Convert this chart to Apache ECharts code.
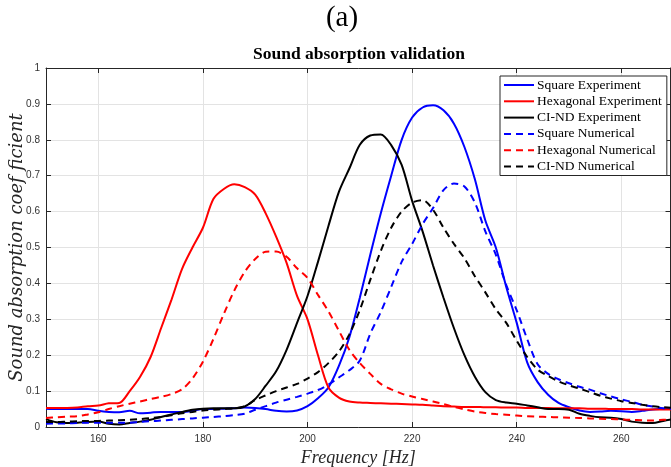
<!DOCTYPE html>
<html><head><meta charset="utf-8">
<script src="https://cdn.jsdelivr.net/npm/echarts@6/dist/echarts.min.js"></script>
<style>html,body{margin:0;padding:0;background:#fff}#c{width:671px;height:467px}</style>
</head><body><div id="c"></div>
<script>
const freq = [150,152,154,156,158,160,162,164,166,168,170,172,174,176,178,180,182,184,186,188,190,
  192,194,196,198,200,202,204,206,208,210,212,214,216,218,220,222,224,226,228,230,
  232,234,236,238,240,242,244,246,248,250,252,254,256,258,260,262,264,266,268,270];

const squareExp = [0.051,0.050,0.050,0.050,0.050,0.045,0.042,0.041,0.045,0.038,0.040,
  0.042,0.042,0.042,0.045,0.050,0.050,0.051,0.052,0.054,0.053,
  0.050,0.045,0.043,0.046,0.058,0.080,0.110,0.170,0.250,0.360,
  0.480,0.595,0.700,0.800,0.862,0.890,0.896,0.882,0.845,0.780,
  0.690,0.575,0.500,0.390,0.290,0.180,0.125,0.090,0.067,0.055,
  0.046,0.042,0.043,0.045,0.044,0.042,0.045,0.049,0.051,0.053];

const hexExp = [0.053,0.053,0.053,0.054,0.058,0.060,0.066,0.067,0.100,0.140,0.195,
  0.275,0.355,0.440,0.500,0.555,0.635,0.663,0.676,0.668,0.647,
  0.595,0.530,0.457,0.365,0.300,0.200,0.110,0.082,0.071,0.068,
  0.067,0.066,0.065,0.064,0.063,0.062,0.060,0.058,0.057,0.056,
  0.056,0.055,0.055,0.054,0.054,0.053,0.053,0.053,0.052,0.052,
  0.052,0.051,0.051,0.050,0.050,0.050,0.049,0.049,0.049,0.049];

const cindExp = [0.022,0.013,0.011,0.012,0.014,0.015,0.009,0.007,0.011,0.015,0.020,
  0.028,0.035,0.042,0.048,0.051,0.052,0.052,0.052,0.057,0.078,
  0.115,0.155,0.215,0.290,0.365,0.460,0.560,0.655,0.720,0.786,
  0.812,0.815,0.785,0.730,0.630,0.545,0.450,0.360,0.275,0.200,
  0.140,0.097,0.075,0.068,0.065,0.060,0.055,0.050,0.050,0.048,
  0.037,0.031,0.027,0.026,0.022,0.015,0.012,0.011,0.017,0.022];

const squareNum = [0.009,0.010,0.010,0.011,0.012,0.012,0.012,0.012,0.012,0.014,0.016,
  0.018,0.020,0.022,0.024,0.026,0.028,0.030,0.033,0.037,0.048,
  0.058,0.068,0.076,0.084,0.093,0.103,0.118,0.138,0.158,0.185,
  0.260,0.320,0.390,0.460,0.510,0.565,0.610,0.660,0.678,0.670,
  0.625,0.545,0.480,0.395,0.325,0.245,0.175,0.148,0.133,0.122,
  0.112,0.104,0.094,0.085,0.077,0.070,0.062,0.057,0.052,0.050];

const hexNum = [0.025,0.027,0.029,0.030,0.035,0.041,0.050,0.058,0.065,0.071,0.078,
  0.084,0.092,0.105,0.135,0.182,0.245,0.315,0.380,0.432,0.468,
  0.488,0.489,0.474,0.442,0.415,0.368,0.322,0.268,0.215,0.178,
  0.148,0.120,0.105,0.093,0.085,0.078,0.071,0.064,0.056,0.049,
  0.043,0.039,0.036,0.034,0.032,0.030,0.029,0.028,0.027,0.026,
  0.025,0.024,0.023,0.022,0.021,0.020,0.019,0.018,0.020,0.022];

const cindNum = [0.014,0.014,0.015,0.016,0.017,0.017,0.018,0.019,0.020,0.022,0.025,
  0.028,0.033,0.038,0.042,0.046,0.048,0.050,0.052,0.058,0.075,
  0.088,0.100,0.110,0.120,0.135,0.153,0.178,0.210,0.258,0.326,
  0.410,0.490,0.555,0.600,0.625,0.632,0.605,0.555,0.510,0.470,
  0.420,0.375,0.328,0.290,0.240,0.195,0.160,0.142,0.127,0.116,
  0.107,0.097,0.087,0.079,0.072,0.067,0.062,0.058,0.055,0.053];

const seriesDefs = [
  {name: 'Square Experiment', data: squareExp, color: '#0000ff', dash: 'solid'},
  {name: 'Hexagonal Experiment', data: hexExp, color: '#ff0000', dash: 'solid'},
  {name: 'CI-ND Experiment', data: cindExp, color: '#000000', dash: 'solid'},
  {name: 'Square Numerical', data: squareNum, color: '#0000ff', dash: [7, 5]},
  {name: 'Hexagonal Numerical', data: hexNum, color: '#ff0000', dash: [7, 5]},
  {name: 'CI-ND Numerical', data: cindNum, color: '#000000', dash: [7, 5]}
];

const axisColor = '#262626';
const gridColor = '#e3e3e3';
const chart = echarts.init(document.getElementById('c'), null, {renderer: 'canvas'});
const plotLeft = 46, plotTop = 68, plotW = 624.5, plotH = 359;

chart.setOption({
  animation: false,
  backgroundColor: '#ffffff',
  graphic: [
    {type: 'text', x: 342, y: 18,
      style: {text: '(a)', fill: '#000', font: '29px "Liberation Serif"', textAlign: 'center', textVerticalAlign: 'middle'}},
    {type: 'text', x: 359, y: 54,
      style: {text: 'Sound absorption validation', fill: '#000', font: 'bold 17.5px "Liberation Serif"', textAlign: 'center', textVerticalAlign: 'middle'}},
    {type: 'text', x: 17, y: plotTop + plotH / 2, rotation: Math.PI / 2,
      style: {text: 'Sound absorption coef ficient', fill: '#262626', font: 'italic 18px "DejaVu Serif"', textAlign: 'center', textVerticalAlign: 'middle'}}
  ],
  grid: {left: plotLeft, top: plotTop, width: plotW, height: plotH, containLabel: false, outerBoundsMode: 'none'},
  legend: {
    orient: 'vertical', left: 500, top: 76,
    padding: [2, 5, 2, 3], itemGap: 2.3, itemWidth: 30, itemHeight: 14,
    backgroundColor: '#ffffff', borderColor: axisColor, borderWidth: 1,
    itemStyle: {opacity: 0, borderWidth: 0},
    textStyle: {fontFamily: 'Liberation Serif', fontSize: 13.5, color: '#000', padding: [0, 0, 0, -2]},
    data: seriesDefs.map(s => s.name)
  },
  xAxis: [
    {type: 'value', min: 150, max: 269.4, splitNumber: 6, position: 'bottom',
      axisLine: {show: true, onZero: false, lineStyle: {color: axisColor, width: 1}},
      axisTick: {show: true, inside: true, length: 5, lineStyle: {color: axisColor}},
      axisLabel: {color: '#333', fontFamily: 'Liberation Sans', fontSize: 10, margin: 7,
        formatter: v => (Math.abs(v % 20) < 1e-9 ? String(v) : '')},
      splitLine: {show: true, lineStyle: {color: gridColor, width: 1}},
      name: 'Frequency [Hz]', nameLocation: 'middle', nameGap: 17,
      nameTextStyle: {fontFamily: 'Liberation Serif', fontStyle: 'italic', fontSize: 18, color: '#262626'}},
    {type: 'value', min: 150, max: 269.4, splitNumber: 6, position: 'top',
      axisLine: {show: true, onZero: false, lineStyle: {color: axisColor, width: 1}},
      axisTick: {show: true, inside: true, length: 5, lineStyle: {color: axisColor}},
      axisLabel: {show: false}, splitLine: {show: false}}
  ],
  yAxis: [
    {type: 'value', min: 0, max: 1, interval: 0.1, position: 'left',
      axisLine: {show: true, onZero: false, lineStyle: {color: axisColor, width: 1}},
      axisTick: {show: true, inside: true, length: 5, lineStyle: {color: axisColor}},
      axisLabel: {color: '#333', fontFamily: 'Liberation Sans', fontSize: 10, margin: 6},
      splitLine: {show: true, lineStyle: {color: gridColor, width: 1}}},
    {type: 'value', min: 0, max: 1, interval: 0.1, position: 'right',
      axisLine: {show: true, onZero: false, lineStyle: {color: axisColor, width: 1}},
      axisTick: {show: true, inside: true, length: 5, lineStyle: {color: axisColor}},
      axisLabel: {show: false}, splitLine: {show: false}}
  ],
  series: seriesDefs.map(s => ({
    name: s.name, type: 'line', xAxisIndex: 0, yAxisIndex: 0,
    data: freq.map((f, i) => [f, s.data[i]]),
    showSymbol: false, symbol: 'none', smooth: 0.3,
    clip: true,
    lineStyle: {color: s.color, width: 2, type: s.dash},
    itemStyle: {color: s.color}
  }))
});
</script></body></html>
